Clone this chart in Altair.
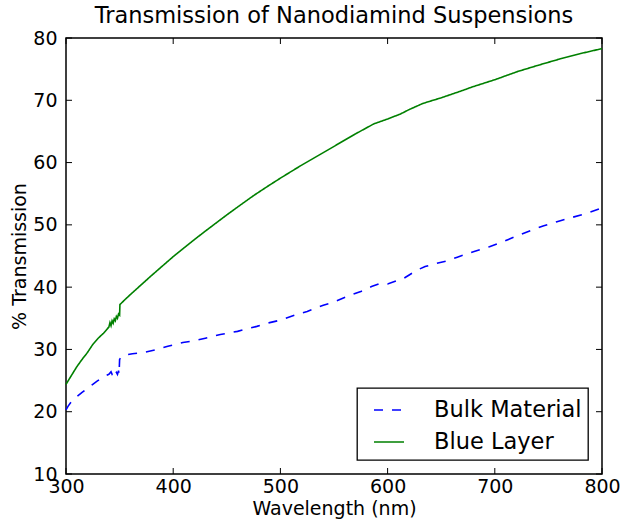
import altair as alt
import pandas as pd

# ---- data ----
green_nm = [300, 305, 310, 315, 320, 325, 330, 335, 338, 340, 341, 342, 343, 344, 345,
            346, 347, 348, 349, 350, 350.3, 355, 360, 369, 380, 390, 400, 410, 418, 430,
            440, 450, 462, 475, 490, 500, 518, 530, 540, 555, 570, 587, 600, 612, 620,
            633, 650, 667, 680, 700, 721, 740, 760, 780, 800]
green_val = [24.4, 25.8, 27.2, 28.4, 29.5, 30.8, 31.8, 32.6, 33.2, 33.6, 34.3, 33.8, 34.6, 34.2, 34.9,
             34.6, 35.3, 35.0, 35.7, 35.5, 37.2, 38.0, 38.8, 40.2, 41.9, 43.4, 44.9, 46.3, 47.4, 49.0,
             50.3, 51.6, 53.1, 54.7, 56.4, 57.5, 59.4, 60.6, 61.6, 63.1, 64.6, 66.2, 67.0, 67.8, 68.5,
             69.5, 70.4, 71.4, 72.2, 73.3, 74.6, 75.6, 76.6, 77.5, 78.3]

blue_nm = [300, 302, 305, 310, 315, 321, 325, 329, 336, 340, 342, 343, 344, 345, 346,
           347, 348, 349, 349.5, 350, 352, 355, 362, 372, 385, 395, 409, 420, 430, 444,
           460, 478, 490, 500, 515, 525, 540, 550, 562, 575, 585, 593, 600, 608, 615,
           627, 635, 643, 655, 665, 680, 695, 708, 720, 735, 745, 758, 770, 785, 800]
blue_val = [20.3, 20.9, 21.6, 22.4, 23.1, 23.9, 24.4, 24.9, 25.7, 26.0, 26.4, 26.0, 26.2, 26.5, 25.9,
            26.3, 26.0, 26.6, 26.0, 28.4, 28.9, 29.1, 29.3, 29.5, 30.0, 30.5, 31.1, 31.4, 31.8, 32.4,
            32.9, 33.7, 34.3, 34.7, 35.6, 36.1, 37.1, 37.6, 38.5, 39.3, 40.1, 40.6, 40.5, 41.0, 41.4,
            42.7, 43.3, 43.7, 44.2, 44.8, 45.7, 46.5, 47.3, 48.2, 49.2, 49.8, 50.5, 51.1, 51.8, 52.7]

series_names = ["Bulk Material", "Blue Layer"]
series_colors = ["#0000ff", "#008000"]
x_ticks = [300, 400, 500, 600, 700, 800]
y_ticks = [10, 20, 30, 40, 50, 60, 70, 80]

FONT = "DejaVu Sans"
W, H = 536, 436
TICK = 6

rows = []
for i, (x, y) in enumerate(zip(blue_nm, blue_val)):
    rows.append({"nm": x, "T": y, "series": series_names[0], "idx": i})
for i, (x, y) in enumerate(zip(green_nm, green_val)):
    rows.append({"nm": x, "T": y, "series": series_names[1], "idx": i})
df = pd.DataFrame(rows)

xscale = alt.Scale(domain=[300, 800], nice=False, zero=False)
yscale = alt.Scale(domain=[10, 80], nice=False, zero=False)

lines = alt.Chart(df).mark_line(strokeWidth=1.6).encode(
    x=alt.X("nm:Q", scale=xscale, title="Wavelength (nm)",
            axis=alt.Axis(values=x_ticks, ticks=False, tickSize=0, domain=False, grid=False,
                          labelFlush=False, labelOverlap=False, labelPadding=3,
                          labelFontSize=19, titleFontSize=19, titlePadding=3,
                          labelFont=FONT, titleFont=FONT, titleFontWeight="normal",
                          labelColor="black", titleColor="black")),
    y=alt.Y("T:Q", scale=yscale, title="% Transmission",
            axis=alt.Axis(values=y_ticks, ticks=False, tickSize=0, domain=False, grid=False,
                          labelFlush=False, labelOverlap=False, labelPadding=9,
                          labelFontSize=19, titleFontSize=19, titlePadding=3,
                          labelFont=FONT, titleFont=FONT, titleFontWeight="normal",
                          labelColor="black", titleColor="black")),
    color=alt.Color("series:N", scale=alt.Scale(domain=series_names, range=series_colors),
                    legend=alt.Legend(title=None)),
    strokeDash=alt.StrokeDash("series:N",
                              scale=alt.Scale(domain=series_names, range=[[9, 9], [1, 0]]),
                              legend=alt.Legend(title=None)),
    order="idx:Q",
)

xt = pd.DataFrame({"v": x_ticks})
yt = pd.DataFrame({"v": y_ticks})
tick_color = "black"
bottom_ticks = alt.Chart(xt).mark_rule(color=tick_color, strokeWidth=1).encode(
    x=alt.X("v:Q", scale=xscale), y=alt.value(H), y2=alt.value(H - TICK))
top_ticks = alt.Chart(xt).mark_rule(color=tick_color, strokeWidth=1).encode(
    x=alt.X("v:Q", scale=xscale), y=alt.value(0), y2=alt.value(TICK))
left_ticks = alt.Chart(yt).mark_rule(color=tick_color, strokeWidth=1).encode(
    y=alt.Y("v:Q", scale=yscale), x=alt.value(0), x2=alt.value(TICK))
right_ticks = alt.Chart(yt).mark_rule(color=tick_color, strokeWidth=1).encode(
    y=alt.Y("v:Q", scale=yscale), x=alt.value(W), x2=alt.value(W - TICK))

chart = alt.layer(lines, bottom_ticks, top_ticks, left_ticks, right_ticks).properties(
    width=W, height=H,
    title=alt.TitleParams("Transmission of Nanodiamind Suspensions", font=FONT, fontSize=22.5,
                          fontWeight="normal", color="black", anchor="middle", offset=2),
    autosize=alt.AutoSizeParams(type="none"),
    padding={"left": 66, "top": 38, "right": 18, "bottom": 49},
    background="white",
).configure_view(stroke="black", strokeWidth=1.5).configure_legend(
    orient="none", legendX=291, legendY=350, strokeColor="black", strokeWidth=1.3,
    fillColor="white", padding=6, symbolOffset=10, symbolType="stroke", symbolSize=900,
    symbolStrokeWidth=1.6, labelFontSize=22.5, labelFont=FONT, labelColor="black",
    labelOffset=29, rowPadding=4, cornerRadius=0,
)

chart.save("out.html", embed_options={"renderer": "svg", "actions": False})
